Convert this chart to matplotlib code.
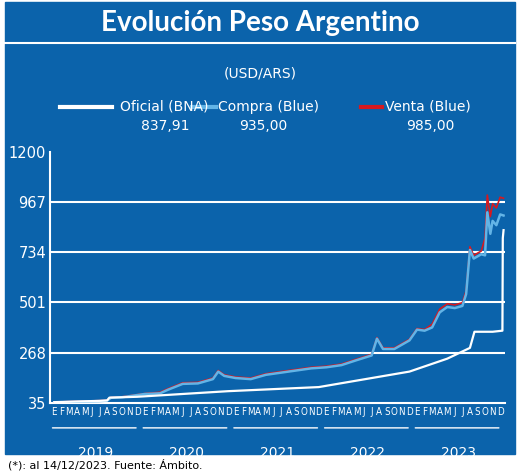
import numpy as np
import matplotlib
matplotlib.use("Agg")
import matplotlib.pyplot as plt

BLUE = "#0b63ab"
LIGHT = "#63b4e6"
RED = "#d7191f"

years = ["2019", "2020", "2021", "2022", "2023"]
month_letters = list("EFMAMJJASOND")

# month index (0 = Jan 2019)
t = [0, 3, 6, 7, 7.5, 9, 11, 12, 14, 15, 17, 19, 21, 21.7, 22.5, 24, 26, 28, 30, 32, 34,
     36, 38, 40, 42, 42.7, 43.5, 45, 47, 48, 49, 50, 51, 52, 53, 54, 54.5, 55, 55.5, 56, 56.5,
     57, 57.3, 57.7, 58, 58.5, 59, 59.45]
venta = [38, 42, 45, 47, 60, 63, 73, 78, 84, 100, 128, 130, 150, 185, 165, 155, 150, 170, 180, 190, 200,
         205, 215, 238, 260, 338, 290, 290, 330, 380, 375, 400, 470, 495, 490, 500, 555, 760, 720, 730, 740,
         800, 1000, 900, 960, 940, 990, 985]
compra = [v - (2 if v < 80 else 5 if v < 400 else 15 if v < 800 else 80) for v in venta]
oficial_t = [0, 6, 7, 7.3, 11, 23, 35, 47, 52, 55, 55.6, 58, 59.3, 59.35, 59.45]
oficial = [38, 44, 46, 59, 63, 89, 108, 180, 240, 290, 365, 365, 370, 800, 837]

fig = plt.figure(figsize=(5.2, 4.75), dpi=100, facecolor="white")
fig.patches.append(plt.Rectangle((0.01, 0.045), 0.98, 0.95, transform=fig.transFigure, color=BLUE, zorder=-5))
fig.add_artist(plt.Line2D([0.01, 0.99], [0.91, 0.91], color="white", lw=1.5, transform=fig.transFigure))
fig.text(0.5, 0.952, "Evolución Peso Argentino", color="white", ha="center", va="center",
         fontsize=20, family="Lato", fontweight="bold")
fig.text(0.5, 0.845, "(USD/ARS)", color="white", ha="center", va="center", fontsize=10)
fig.text(0.015, 0.022, "(*): al 14/12/2023. Fuente: Ámbito.", color="black", ha="left", va="center", fontsize=8)

for lx0, lx1, tx, name, val, col in [(0.115, 0.215, 0.23, "Oficial (BNA)", "837,91", "white"),
                                    (0.37, 0.415, 0.42, "Compra (Blue)", "935,00", LIGHT),
                                    (0.695, 0.735, 0.74, "Venta (Blue)", "985,00", RED)]:
    fig.add_artist(plt.Line2D([lx0, lx1], [0.775, 0.775], color=col, lw=3, transform=fig.transFigure))
    t1 = fig.text(tx, 0.775, name, color="white", ha="left", va="center", fontsize=10)
    fig.text(tx + 0.087, 0.735, val, color="white", ha="center", va="center", fontsize=10)

ax = fig.add_axes([0.097, 0.152, 0.875, 0.528])
ax.set_facecolor(BLUE)
ax.plot(t, compra, color=LIGHT, lw=1.8, zorder=3)
ax.plot(t, venta, color=RED, lw=1.2, zorder=2)
ax.plot(oficial_t, oficial, color="white", lw=1.6, zorder=4)
yt = [35, 268, 501, 734, 967, 1200]
for y in yt[1:5]:
    ax.axhline(y, color="white", lw=1.5, zorder=1)
ax.set_ylim(35, 1200)
ax.set_xlim(-0.5, 59.7)
ax.set_yticks(yt)
ax.set_yticklabels([str(y) for y in yt], color="white", fontsize=10.5)
ax.set_xticks(np.arange(60))
ax.set_xticklabels(month_letters * 5, color="white", fontsize=7, fontstretch="condensed")
ax.tick_params(length=0, pad=3)
for s in ["top", "right"]:
    ax.spines[s].set_visible(False)
for s in ["left", "bottom"]:
    ax.spines[s].set_color("white")
    ax.spines[s].set_linewidth(1.5)

for i, yr in enumerate(years):
    x0, x1 = i * 12 - 0.6, i * 12 + 11.2
    ax.annotate("", xy=(x0, -0.1), xytext=(x1, -0.1), xycoords=("data", "axes fraction"),
                arrowprops=dict(arrowstyle="-", color="white", lw=1), annotation_clip=False)
    ax.text(i * 12 + 5.5, -0.2, yr, transform=ax.get_xaxis_transform(), color="white",
            ha="center", va="center", fontsize=10)

fig.savefig("out.png", dpi=100, facecolor="white")
